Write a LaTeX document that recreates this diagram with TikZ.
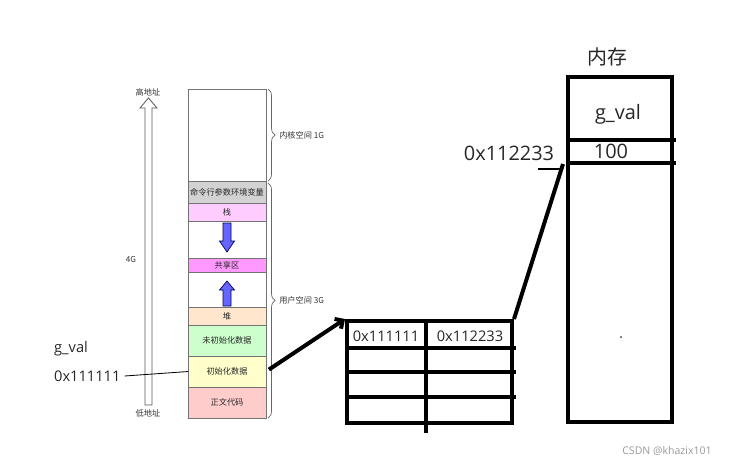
\documentclass[tikz,border=0pt]{standalone}
\usepackage{fontspec}
\setmainfont{Open Sans}
\newfontfamily\cjk{Noto Sans CJK SC}
\usepackage{xcolor}
\usepackage{tikz}
\usetikzlibrary{arrows.meta,positioning,calc,decorations.pathreplacing}

\definecolor{cmdgray}{HTML}{D2D2D2}
\definecolor{stackpink}{HTML}{FFCCFF}
\definecolor{sharedpink}{HTML}{FF99FF}
\definecolor{heappeach}{HTML}{FFE6CC}
\definecolor{bssgreen}{HTML}{CCFFCC}
\definecolor{datayellow}{HTML}{FFFFCC}
\definecolor{textred}{HTML}{FFCCCC}

\begin{document}
\begin{tikzpicture}[
  x=0.03cm, y=-0.03cm,
  seg/.style={draw=black!55, line width=0.6pt, minimum width=2.34cm,
              inner sep=0pt, outer sep=0pt,
              font=\cjk\fontsize{7}{8}\selectfont, text=black!85},
  small/.style={font=\cjk\fontsize{7}{8}\selectfont, text=black!80},
  big/.style={font=\fontsize{17}{20}\selectfont, text=black!85},
  mid/.style={font=\fontsize{12.5}{15}\selectfont, text=black!85},
  thickline/.style={line width=3.4pt},
  bluearrow/.style={draw=blue!35!black, fill=blue!60!white, line width=0.6pt},
  brace/.style={decorate, decoration={brace, amplitude=6pt},
                draw=black!60, line width=0.6pt}
]
\useasboundingbox (0,0) rectangle (740,464);

% address space
\node[seg, minimum height=2.76cm, anchor=north] (kernel) at (227,89) {};
\node[seg, fill=cmdgray, minimum height=0.66cm, below=0pt of kernel] (cmd) {命令行参数环境变量};
\node[seg, fill=stackpink, minimum height=0.54cm, below=0pt of cmd] (stack) {栈};
\node[seg, minimum height=1.11cm, below=0pt of stack] (gapA) {};
\node[seg, fill=sharedpink, minimum height=0.42cm, below=0pt of gapA] (shared) {共享区};
\node[seg, minimum height=1.05cm, below=0pt of shared] (gapB) {};
\node[seg, fill=heappeach, minimum height=0.54cm, below=0pt of gapB] (heap) {堆};
\node[seg, fill=bssgreen, minimum height=0.93cm, below=0pt of heap] (bss) {未初始化数据};
\node[seg, fill=datayellow, minimum height=0.93cm, below=0pt of bss] (init) {初始化数据};
\node[seg, fill=textred, minimum height=0.93cm, below=0pt of init] (code) {正文代码};

% stack / heap growth
\draw[bluearrow] (223,223) -- (223,241) -- (219.5,241) -- (227,252)
  -- (234.5,241) -- (231,241) -- (231,223) -- cycle;
\draw[bluearrow] (223,306) -- (223,290) -- (219.5,290) -- (227,281)
  -- (234.5,290) -- (231,290) -- (231,306) -- cycle;

% braces
\draw[brace] ([xshift=0.06cm]kernel.north east) -- ([xshift=0.06cm]kernel.south east)
  node[midway, right=6pt, small] (kspace) {内核空间 1G};
\draw[brace] ([xshift=0.06cm,yshift=-0.06cm]cmd.north east) -- ([xshift=0.06cm]code.south east)
  node[midway, right=6pt, small] (uspace) {用户空间 3G};

% address axis
\node[small] (hi) at (148,92) {高地址};
\node[small] (lo) at (148,413) {低地址};
\node[small] (four) at (131,259) {4G};
\draw[black!65, fill=white, line width=0.7pt] (145,405) -- (145,108) -- (140,108)
  -- (148.5,98) -- (157,108) -- (152,108) -- (152,405) -- cycle;

% variable on the left
\node[mid, anchor=west] (gname) at (50,349) {g\_val};
\node[mid, anchor=west] (gaddr) at (50,376) {0x111111};
\draw[line width=0.7pt] (gaddr.east) -- (init.west);

% page table
\node[draw, thickline, minimum width=4.95cm, minimum height=3.06cm, inner sep=0pt] (tbl) at (429.5,372) {};
\draw[thickline] (426,321) -- (426,433);
\draw[thickline] (347,348) -- (516,348);
\draw[thickline] (347,372) -- (516,372);
\draw[thickline] (347,397) -- (516,397);
\node[mid] (virt) at (386,336) {0x111111};
\node[mid] (phys) at (470,336) {0x112233};

\draw[thickline, -{Straight Barb[length=5pt,width=10pt]}, shorten <=3pt] (init.east) -- (tbl.north west);

% physical memory
\node[draw, thickline, minimum width=3.12cm, minimum height=10.35cm, inner sep=0pt] (mem) at (620,249.5) {};
\draw[thickline] (568,140) -- (676,140);
\draw[thickline] (568,163) -- (676,163);
\node[big, font=\cjk\fontsize{17}{20}\selectfont] (memtitle) at (607,57) {内存};
\node[big] (gval) at (618,114) {g\_val};
\node[big] (val) at (611,151) {100};
\node[big] (paddr) at (509,153) {0x112233};
\fill (621,337) circle (0.7pt);

\coordinate (slot) at (563,164);
\coordinate (tick) at (538,169);
\draw[thickline] (tbl.north east) -- (slot);
\draw[line width=1.7pt] (tick) -- (tick -| slot);

\node[font=\fontsize{9}{10}\selectfont, text=black!40] (wm) at (667,451) {CSDN @khazix101};
\end{tikzpicture}
\end{document}
